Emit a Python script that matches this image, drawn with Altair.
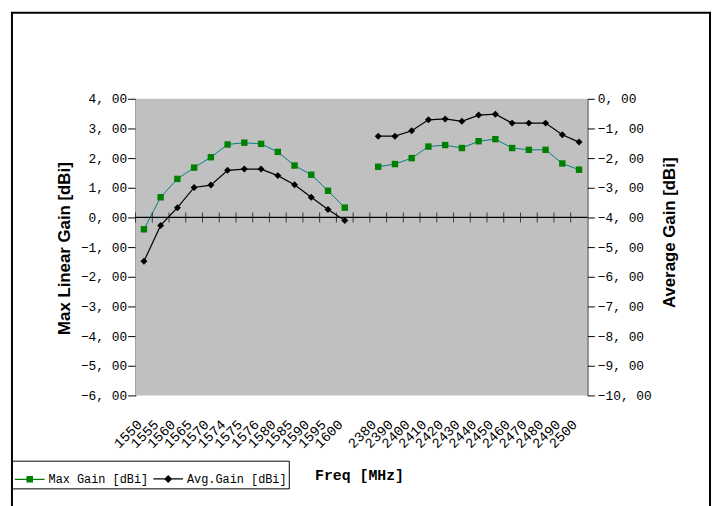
import altair as alt
import pandas as pd

cats_left = ["1550", "1555", "1560", "1565", "1570", "1574", "1575", "1576", "1580", "1585", "1590", "1595", "1600"]
cats_right = ["2380", "2390", "2400", "2410", "2420", "2430", "2440", "2450", "2460", "2470", "2480", "2490", "2500"]
gap = [" "]

max_left = [-0.40, 0.68, 1.30, 1.68, 2.03, 2.46, 2.52, 2.48, 2.21, 1.75, 1.44, 0.90, 0.33]
avg_left = [-5.48, -4.27, -3.67, -2.99, -2.91, -2.41, -2.37, -2.37, -2.59, -2.90, -3.32, -3.73, -4.10]
max_right = [1.71, 1.80, 2.00, 2.39, 2.44, 2.34, 2.57, 2.64, 2.34, 2.28, 2.28, 1.82, 1.61]
avg_right = [-1.26, -1.26, -1.08, -0.71, -0.68, -0.76, -0.55, -0.52, -0.82, -0.82, -0.82, -1.21, -1.46]

S_MAX = "Max Gain [dBi]"
S_AVG = "Avg.Gain [dBi]"
series_names = [S_MAX, S_AVG]

all_cats = cats_left + gap + cats_right

df = pd.DataFrame({
    "cat": cats_left + cats_right,
    "maxg": max_left + max_right,
    "avgg": avg_left + avg_right,
    "grp": ["L"] * len(cats_left) + ["R"] * len(cats_right),
})

ticks_df = pd.DataFrame({"cat": all_cats, "z": [0.0] * len(all_cats)})
zero_df = pd.DataFrame({"z": [0.0]})
frame_df = pd.DataFrame({"z": [0.0]})
legend_df = pd.DataFrame({"series": series_names})

W, H = 457, 300
FONT_MONO = "Liberation Mono"
FONT_SANS = "Liberation Sans"
GREEN = "#008000"
GRAY = "#c0c0c0"

xscale = alt.Scale(type="band", domain=all_cats, paddingInner=0, paddingOuter=0)
lab_expr = "replace(format(datum.value, '.2f'), '.', ', ')"

x_enc = alt.X(
    "cat:N", scale=xscale, sort=all_cats,
    axis=alt.Axis(
        title="Freq [MHz]", domain=False, ticks=False, labelAngle=-45,
        labelAlign="right", labelBaseline="middle", labelPadding=27, labelOffset=-4,
        labelOverlap=False, labelFont=FONT_MONO, labelFontSize=14, labelColor="black",
        titleFont=FONT_MONO, titleFontSize=15, titleFontWeight="bold", titleColor="black",
        titleX=226, titleY=80, titleAlign="center", titleBaseline="middle",
    ),
)

yl_scale = alt.Scale(domain=[-6, 4], nice=False, zero=False)
yr_scale = alt.Scale(domain=[-10, 0], nice=False, zero=False)

left_axis = alt.Axis(
    orient="left", values=list(range(-6, 5)), labelExpr=lab_expr, grid=False,
    tickSize=8, tickColor="black", domainColor="black", labelPadding=1,
    labelFont=FONT_MONO, labelFontSize=13, labelColor="black",
    title="Max Linear Gain [dBi]", titleFont=FONT_SANS, titleFontSize=17,
    titleFontWeight="bold", titleColor="black", titleAngle=270,
    titleX=-72, titleY=151, titleAlign="center", titleBaseline="middle",
)
right_axis = alt.Axis(
    orient="right", values=list(range(-10, 1)), labelExpr=lab_expr, grid=False,
    tickSize=7, tickColor="black", domainColor="black", labelPadding=3,
    labelFont=FONT_MONO, labelFontSize=13, labelColor="black",
    title="Average Gain [dBi]", titleFont=FONT_SANS, titleFontSize=17,
    titleFontWeight="bold", titleColor="black", titleAngle=270,
    titleX=83, titleY=135, titleAlign="center", titleBaseline="middle",
)

sym_max = "M-1,-0.045H1V0.045H-1ZM-0.22,-0.22H0.22V0.22H-0.22Z"
sym_avg = "M-1,-0.045H1V0.045H-1ZM0,-0.27L0.27,0L0,0.27L-0.27,0Z"

legend = alt.Legend(
    title=None, orient="none", legendX=-125, legendY=366, direction="horizontal",
    strokeColor="black", fillColor="white", padding=2, columnPadding=2,
    labelFont=FONT_MONO, labelFontSize=12, labelColor="black", labelOffset=3,
    symbolSize=900, symbolOpacity=1,
)

# decorative chart-area border and plot-area background
frame = alt.Chart(frame_df).mark_rect(
    fillOpacity=0, stroke="black", strokeWidth=2
).encode(
    x=alt.value(-125), x2=alt.value(W + 124), y=alt.value(-87), y2=alt.value(H + 150)
)
plot_bg = alt.Chart(frame_df).mark_rect(color=GRAY).encode(
    x=alt.value(0), x2=alt.value(W), y=alt.value(0), y2=alt.value(H)
)

legend_layer = alt.Chart(legend_df).mark_point(filled=True, size=900, opacity=0).encode(
    color=alt.Color("series:N", scale=alt.Scale(domain=series_names, range=[GREEN, "#000000"]), legend=legend),
    shape=alt.Shape("series:N", scale=alt.Scale(domain=series_names, range=[sym_max, sym_avg]), legend=legend),
)

base = alt.Chart(df)

max_line = base.mark_line(color="#008080", strokeWidth=1).encode(
    x=x_enc,
    y=alt.Y("maxg:Q", scale=yl_scale, axis=left_axis),
    detail="grp:N",
)
max_pts = base.mark_point(shape="square", filled=True, size=42, opacity=1, color=GREEN).encode(
    x=x_enc,
    y=alt.Y("maxg:Q", scale=yl_scale, axis=left_axis),
)
zero_rule = alt.Chart(zero_df).mark_rule(color="black", strokeWidth=1.2).encode(
    y=alt.Y("z:Q", scale=yl_scale, axis=left_axis)
)
ticks = alt.Chart(ticks_df).mark_tick(
    orient="vertical", size=10, thickness=1, color="black"
).encode(
    x=alt.X("cat:N", scale=xscale, sort=all_cats, bandPosition=0),
    y=alt.Y("z:Q", scale=yl_scale, axis=left_axis),
)

avg_line = base.mark_line(color="black", strokeWidth=1.2).encode(
    x=x_enc,
    y=alt.Y("avgg:Q", scale=yr_scale, axis=right_axis),
    detail="grp:N",
)
avg_pts = base.mark_point(shape="diamond", filled=True, size=50, opacity=1, color="black").encode(
    x=x_enc,
    y=alt.Y("avgg:Q", scale=yr_scale, axis=right_axis),
)

left_layer = alt.layer(plot_bg, frame, max_line, zero_rule, ticks, max_pts, legend_layer)
right_layer = alt.layer(avg_line, avg_pts)

chart = alt.layer(left_layer, right_layer).resolve_scale(
    y="independent"
).properties(
    width=W, height=H,
    autosize=alt.AutoSizeParams(type="none"),
    padding={"left": 129, "top": 89, "right": 126, "bottom": 109},
    background="white",
).configure_view(
    fill=GRAY, stroke="transparent"
)

chart.save("out.html", embed_options={"renderer": "svg", "actions": False})
